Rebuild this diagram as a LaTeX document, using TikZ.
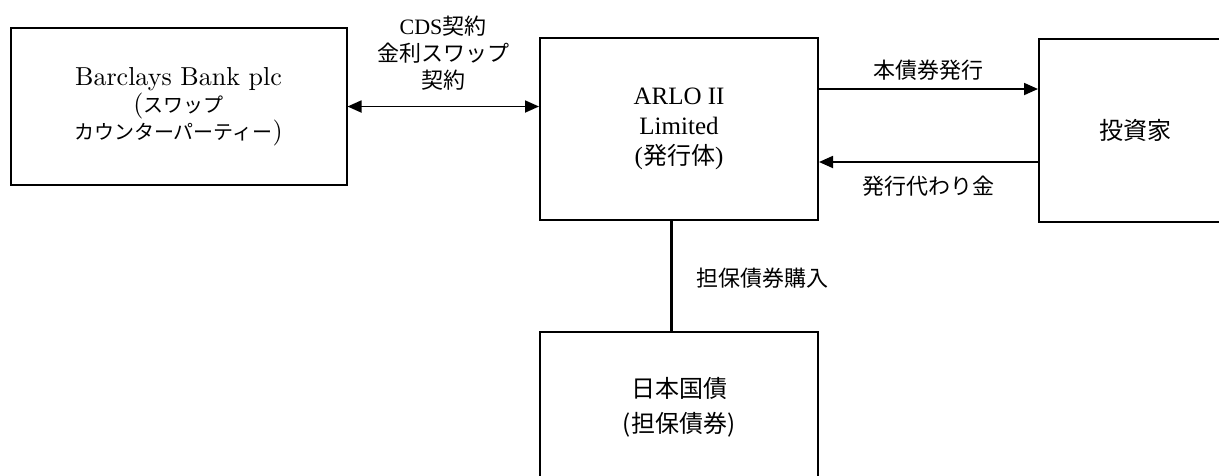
\documentclass[tikz,border=0pt]{standalone}
\usepackage{fontspec}
\newfontfamily\tms{Liberation Serif}
\newfontfamily\jp{Noto Sans CJK JP}
\newfontfamily\lmten{lmroman10-regular.otf}
\usetikzlibrary{arrows.meta}
\begin{document}
\begin{tikzpicture}[x=1pt,y=-1pt,
  box/.style={draw, line width=2pt, inner sep=0pt, align=center},
  lab/.style={align=center, font={\fontsize{22}{27}\selectfont}},
  arr/.style={line width=1.8pt, -{Triangle[length=14pt,width=12pt]}},
  darr/.style={line width=1.8pt, {Triangle[length=14pt,width=12pt]}-{Triangle[length=14pt,width=12pt]}}]
\useasboundingbox[fill=white] (0,0) rectangle (1219,475);

\node[box, minimum width=336pt, minimum height=157pt,
      font={\lmten\fontsize{26}{27}\selectfont}] (bar) at (178.5,106.5)
  {Barclays Bank plc\\({\jp\fontsize{20}{27}\selectfont スワップ}\\{\jp\fontsize{20}{27}\selectfont カウンターパーティー})};

\node[box, minimum width=278pt, minimum height=182pt,
      font={\tms\fontsize{25}{30}\selectfont}] (arlo) at (679,129)
  {ARLO II\\Limited\\({\jp\fontsize{24}{30}\selectfont 発行体})};

\node[box, minimum width=192pt, minimum height=183pt,
      font={\jp\fontsize{24}{30}\selectfont}] (inv) at (1135,130)
  {投資家};

\node[box, minimum width=278pt, minimum height=150pt,
      font={\jp\fontsize{24}{35}\selectfont}] (jgb) at (679,407)
  {日本国債\\(担保債券)};

\draw[darr] (bar.east) -- (bar.east -| arlo.west);
\draw[arr] (arlo.east |- 0,89) -- (inv.west |- 0,89);
\draw[arr] (inv.west |- 0,162) -- (arlo.east |- 0,162);
\draw[line width=3pt] (arlo.south -| 671,0) -- (jgb.north -| 671,0);

\node[lab] (cds) at (443,53) {{\tms CDS}{\jp 契約}\\{\jp 金利スワップ}\\{\jp 契約}};
\node[lab, font={\jp\fontsize{22}{27}\selectfont}] (iss) at (928,70) {本債券発行};
\node[lab, font={\jp\fontsize{22}{27}\selectfont}] (pay) at (928,186) {発行代わり金};
\node[lab, font={\jp\fontsize{22}{27}\selectfont}] (buy) at (762,278) {担保債券購入};
\end{tikzpicture}
\end{document}
